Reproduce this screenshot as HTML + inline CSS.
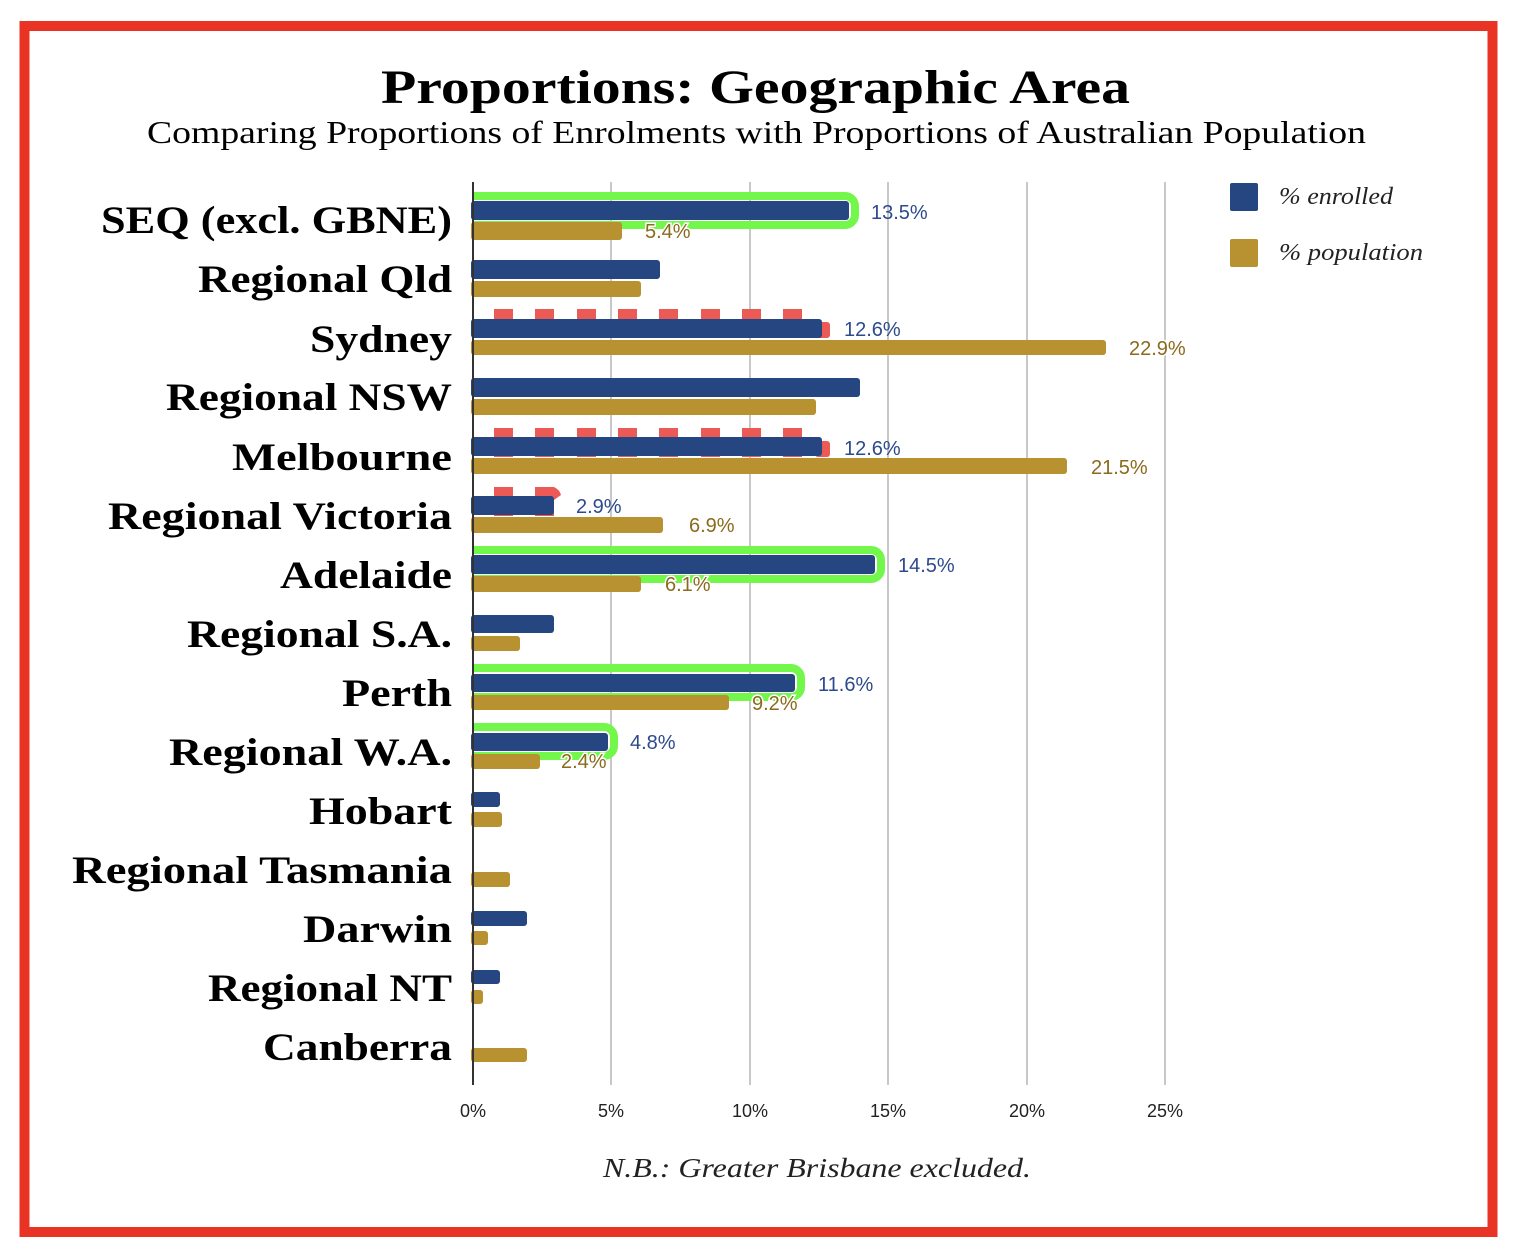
<!DOCTYPE html>
<html><head><meta charset="utf-8"><style>
html,body{margin:0;padding:0;background:#fff}
svg{display:block}
.lab{font-family:"Liberation Serif",serif;font-weight:bold;font-size:39px;fill:#000;text-anchor:end}
.tk{font-family:"Liberation Sans",sans-serif;font-size:18px;fill:#222;text-anchor:middle}
.vb{font-family:"Liberation Sans",sans-serif;font-size:20px;fill:#2c4a8c}
.vg{font-family:"Liberation Sans",sans-serif;font-size:20px;fill:#8a6a1c;stroke:#fff;stroke-width:3;paint-order:stroke}
.leg{font-family:"Liberation Serif",serif;font-style:italic;font-size:24px;fill:#222}
</style></head><body>
<svg width="1526" height="1250" viewBox="0 0 1526 1250" xmlns="http://www.w3.org/2000/svg">
<rect x="0" y="0" width="1526" height="1250" fill="#fff"/>
<rect x="24.5" y="26" width="1468" height="1206" fill="none" stroke="#e83325" stroke-width="10"/>
<text x="381" y="103" textLength="749" lengthAdjust="spacingAndGlyphs" font-family="Liberation Serif,serif" font-weight="bold" font-size="48">Proportions: Geographic Area</text>
<text x="147" y="143" textLength="1219" lengthAdjust="spacingAndGlyphs" font-family="Liberation Serif,serif" font-size="32">Comparing Proportions of Enrolments with Proportions of Australian Population</text>
<g stroke="#c8c8c8" stroke-width="2">
<line x1="611" y1="182" x2="611" y2="1085"/><line x1="750" y1="182" x2="750" y2="1085"/>
<line x1="888" y1="182" x2="888" y2="1085"/><line x1="1027" y1="182" x2="1027" y2="1085"/>
<line x1="1165" y1="182" x2="1165" y2="1085"/>
</g>
<g fill="#ec5a55">
<g id="d1"><rect x="494" y="309" width="19" height="29"/><rect x="535" y="309" width="19" height="29"/><rect x="577" y="309" width="19" height="29"/><rect x="618" y="309" width="19" height="29"/><rect x="659" y="309" width="19" height="29"/><rect x="701" y="309" width="19" height="29"/><rect x="742" y="309" width="19" height="29"/><rect x="783" y="309" width="19" height="29"/><rect x="815" y="322" width="15" height="16" rx="3"/></g>
<use href="#d1" y="119"/>
<rect x="494" y="487" width="19" height="29"/><rect x="535" y="487" width="19" height="29"/>
<path d="M554 487 Q560 490 561 495 L554 500Z"/>
</g>
<g fill="none" stroke="#72f74a" stroke-width="8">
<path d="M473 196 H845 a10 10 0 0 1 10 10 V215 a10 10 0 0 1 -10 10 H473"/>
<path d="M473 550 H871 a10 10 0 0 1 10 10 V569 a10 10 0 0 1 -10 10 H473"/>
<path d="M473 668 H791 a10 10 0 0 1 10 10 V687 a10 10 0 0 1 -10 10 H473"/>
<path d="M473 727 H604 a10 10 0 0 1 10 10 V746 a10 10 0 0 1 -10 10 H473"/>
</g>
<g fill="#264682">
<rect x="471" y="201" width="378" height="19" rx="3"/>
<rect x="471" y="260" width="189" height="19" rx="3"/>
<rect x="471" y="319" width="351" height="19" rx="3"/>
<rect x="471" y="378" width="389" height="19" rx="3"/>
<rect x="471" y="437" width="351" height="19" rx="3"/>
<rect x="471" y="496" width="83" height="19" rx="3"/>
<rect x="471" y="555" width="404" height="19" rx="3"/>
<rect x="471" y="615" width="83" height="18" rx="3"/>
<rect x="471" y="674" width="324" height="18" rx="3"/>
<rect x="471" y="733" width="137" height="18" rx="3"/>
<rect x="471" y="792" width="29" height="15" rx="3"/>
<rect x="471" y="911" width="56" height="15" rx="3"/>
<rect x="471" y="970" width="29" height="14" rx="3"/>
</g>
<g fill="#b89131">
<rect x="471" y="222" width="151" height="18" rx="3"/>
<rect x="471" y="281" width="170" height="16" rx="3"/>
<rect x="471" y="340" width="635" height="15" rx="3"/>
<rect x="471" y="399" width="345" height="16" rx="3"/>
<rect x="471" y="458" width="596" height="16" rx="3"/>
<rect x="471" y="517" width="192" height="16" rx="3"/>
<rect x="471" y="576" width="170" height="16" rx="3"/>
<rect x="471" y="636" width="49" height="15" rx="3"/>
<rect x="471" y="695" width="258" height="15" rx="3"/>
<rect x="471" y="754" width="69" height="15" rx="3"/>
<rect x="471" y="812" width="31" height="15" rx="3"/>
<rect x="471" y="872" width="39" height="15" rx="3"/>
<rect x="471" y="931" width="17" height="14" rx="3"/>
<rect x="471" y="990" width="12" height="14" rx="3"/>
<rect x="471" y="1048" width="56" height="14" rx="3"/>
</g>
<line x1="473" y1="182" x2="473" y2="1085" stroke="#333" stroke-width="2"/>
<text class="vb" x="871" y="219">13.5%</text>
<text class="vg" x="645" y="238">5.4%</text>
<text class="vb" x="844" y="336">12.6%</text>
<text class="vg" x="1129" y="355">22.9%</text>
<text class="vb" x="844" y="455">12.6%</text>
<text class="vg" x="1091" y="474">21.5%</text>
<text class="vb" x="576" y="513">2.9%</text>
<text class="vg" x="689" y="532">6.9%</text>
<text class="vb" x="898" y="572">14.5%</text>
<text class="vg" x="665" y="591">6.1%</text>
<text class="vb" x="818" y="691">11.6%</text>
<text class="vg" x="752" y="710">9.2%</text>
<text class="vb" x="630" y="749">4.8%</text>
<text class="vg" x="561" y="768">2.4%</text>
<g class="lab">
<text x="452" y="233" textLength="351" lengthAdjust="spacingAndGlyphs">SEQ (excl. GBNE)</text>
<text x="452" y="292" textLength="254" lengthAdjust="spacingAndGlyphs">Regional Qld</text>
<text x="452" y="352" textLength="142" lengthAdjust="spacingAndGlyphs">Sydney</text>
<text x="452" y="410" textLength="286" lengthAdjust="spacingAndGlyphs">Regional NSW</text>
<text x="452" y="470" textLength="220" lengthAdjust="spacingAndGlyphs">Melbourne</text>
<text x="452" y="529" textLength="344" lengthAdjust="spacingAndGlyphs">Regional Victoria</text>
<text x="452" y="588" textLength="172" lengthAdjust="spacingAndGlyphs">Adelaide</text>
<text x="452" y="647" textLength="265" lengthAdjust="spacingAndGlyphs">Regional S.A.</text>
<text x="452" y="706" textLength="110" lengthAdjust="spacingAndGlyphs">Perth</text>
<text x="452" y="765" textLength="283" lengthAdjust="spacingAndGlyphs">Regional W.A.</text>
<text x="452" y="824" textLength="143" lengthAdjust="spacingAndGlyphs">Hobart</text>
<text x="452" y="883" textLength="380" lengthAdjust="spacingAndGlyphs">Regional Tasmania</text>
<text x="452" y="942" textLength="149" lengthAdjust="spacingAndGlyphs">Darwin</text>
<text x="452" y="1001" textLength="244" lengthAdjust="spacingAndGlyphs">Regional NT</text>
<text x="452" y="1060" textLength="189" lengthAdjust="spacingAndGlyphs">Canberra</text>
</g>
<g class="tk">
<text x="473" y="1117">0%</text><text x="611" y="1117">5%</text><text x="750" y="1117">10%</text>
<text x="888" y="1117">15%</text><text x="1027" y="1117">20%</text><text x="1165" y="1117">25%</text>
</g>
<rect x="1230" y="183" width="28" height="28" rx="2" fill="#264682"/>
<rect x="1230" y="239" width="28" height="28" rx="2" fill="#b89131"/>
<text class="leg" x="1279" y="204" textLength="114" lengthAdjust="spacingAndGlyphs">% enrolled</text>
<text class="leg" x="1279" y="260" textLength="144" lengthAdjust="spacingAndGlyphs">% population</text>
<text x="603" y="1177" textLength="428" lengthAdjust="spacingAndGlyphs" font-family="Liberation Serif,serif" font-style="italic" font-size="27" fill="#222">N.B.: Greater Brisbane excluded.</text>
</svg>
</body></html>
